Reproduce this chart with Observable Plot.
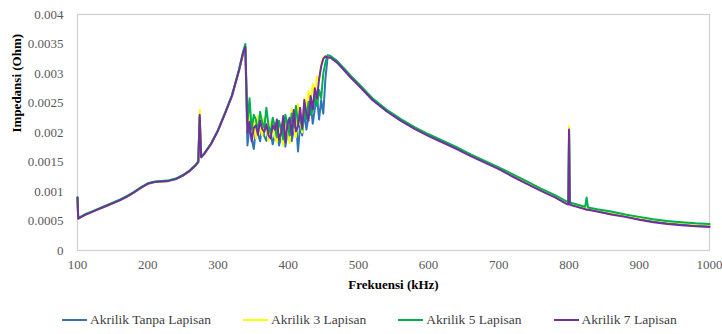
<!DOCTYPE html>
<html>
<head>
<meta charset="utf-8">
<script src="https://cdn.jsdelivr.net/npm/d3@7"></script>
<script src="https://cdn.jsdelivr.net/npm/@observablehq/plot@0.6"></script>
<style>
  html, body { margin: 0; padding: 0; background: #fff; }
  #chart { width: 722px; }
  .legend { display: flex; justify-content: flex-start; align-items: center; height: 20px; margin-top: 4px; padding-left: 62px;
            font-family: "Liberation Serif", "Times New Roman", serif; font-size: 13.5px; color: #404040; }
  .legend .item { display: flex; align-items: center; margin-right: 32px; }
  .legend .sw { width: 25px; height: 0; border-top: 2.5px solid; margin-right: 3px; }
</style>
</head>
<body>
<div id="chart"></div>
<script>
// Frequencies (kHz)
const freq = [
  100, 101, 110, 120, 130, 140, 150, 160, 170, 180, 190, 200, 210, 220, 230, 240, 250, 260, 268, 272, 274, 276, 280, 290, 300, 310, 320, 330, 336, 339,
  342, 345, 348, 351, 354, 357, 360, 363, 366, 369, 372, 375, 378, 381, 384, 387, 390, 393, 396, 399, 402, 405, 408, 411, 414, 417, 420, 423, 426, 429, 432, 435, 438, 441, 444, 447, 450, 453, 456,
  460, 470, 480, 490, 500, 520, 540, 560, 580, 600, 620, 640, 660, 680, 700, 720, 740, 760, 780, 795, 799, 800, 801, 805, 820, 823, 825, 827, 840, 860, 880, 900, 920, 940, 960, 980, 1000
];

const seriesNames = ["Akrilik Tanpa Lapisan", "Akrilik 3 Lapisan", "Akrilik 5 Lapisan", "Akrilik 7 Lapisan"];
const seriesColors = ["#2E75B6", "#FFFF00", "#00B050", "#7030A0"];

const tanpaLapisan = [
  0.00090, 0.00054, 0.00060, 0.00065, 0.00070, 0.00075, 0.00080, 0.00085, 0.00091, 0.00098, 0.00106, 0.00113, 0.00116, 0.00117, 0.00118, 0.00121, 0.00127, 0.00135, 0.00144, 0.00150, 0.00228, 0.00158, 0.00163, 0.00180, 0.00203, 0.00232, 0.00262, 0.00305, 0.00335, 0.00344,
  0.00178, 0.00210, 0.00190, 0.00172, 0.00205, 0.00198, 0.00185, 0.00212, 0.00194, 0.00186, 0.00208, 0.00200, 0.00180, 0.00196, 0.00215, 0.00178, 0.00192, 0.00210, 0.00176, 0.00200, 0.00218, 0.00185, 0.00205, 0.00225, 0.00168, 0.00212, 0.00195, 0.00235, 0.00205, 0.00228, 0.00250, 0.00215, 0.00240, 0.00262, 0.00222, 0.00255, 0.00232, 0.00290, 0.00326,
  0.00328, 0.00319, 0.00306, 0.00293, 0.00281, 0.00256, 0.00237, 0.00221, 0.00207, 0.00195, 0.00184, 0.00173, 0.00161, 0.00150, 0.00139, 0.00126, 0.00114, 0.00102, 0.00091, 0.00081, 0.00079, 0.00200, 0.00079, 0.00077, 0.00072, 0.00071, 0.00070, 0.00070, 0.00067, 0.00062, 0.00058, 0.00053, 0.00049, 0.00046, 0.00044, 0.00042, 0.00041
];

const lapisan3 = [
  0.00090, 0.00054, 0.00060, 0.00065, 0.00070, 0.00075, 0.00080, 0.00085, 0.00091, 0.00098, 0.00106, 0.00113, 0.00116, 0.00117, 0.00118, 0.00121, 0.00127, 0.00135, 0.00144, 0.00150, 0.00238, 0.00158, 0.00163, 0.00180, 0.00203, 0.00232, 0.00262, 0.00305, 0.00335, 0.00346,
  0.00205, 0.00235, 0.00198, 0.00220, 0.00190, 0.00228, 0.00212, 0.00195, 0.00225, 0.00208, 0.00186, 0.00215, 0.00222, 0.00192, 0.00184, 0.00218, 0.00196, 0.00178, 0.00225, 0.00205, 0.00182, 0.00240, 0.00212, 0.00192, 0.00248, 0.00220, 0.00200, 0.00258, 0.00238, 0.00270, 0.00248, 0.00282, 0.00265, 0.00295, 0.00288, 0.00315, 0.00327, 0.00329, 0.00327,
  0.00329, 0.00320, 0.00307, 0.00294, 0.00282, 0.00257, 0.00238, 0.00222, 0.00208, 0.00196, 0.00185, 0.00174, 0.00162, 0.00151, 0.00140, 0.00128, 0.00116, 0.00104, 0.00093, 0.00083, 0.00081, 0.00210, 0.00081, 0.00079, 0.00074, 0.00073, 0.00072, 0.00072, 0.00069, 0.00065, 0.00060, 0.00056, 0.00052, 0.00049, 0.00047, 0.00045, 0.00044
];

const lapisan5 = [
  0.00090, 0.00055, 0.00061, 0.00066, 0.00071, 0.00076, 0.00081, 0.00086, 0.00092, 0.00099, 0.00107, 0.00114, 0.00117, 0.00118, 0.00119, 0.00122, 0.00128, 0.00136, 0.00145, 0.00151, 0.00225, 0.00159, 0.00164, 0.00181, 0.00204, 0.00233, 0.00264, 0.00307, 0.00338, 0.00350,
  0.00215, 0.00258, 0.00205, 0.00230, 0.00222, 0.00200, 0.00235, 0.00218, 0.00208, 0.00242, 0.00212, 0.00198, 0.00225, 0.00210, 0.00192, 0.00220, 0.00205, 0.00188, 0.00230, 0.00215, 0.00195, 0.00232, 0.00208, 0.00245, 0.00215, 0.00228, 0.00205, 0.00240, 0.00222, 0.00252, 0.00230, 0.00238, 0.00262, 0.00245, 0.00272, 0.00258, 0.00300, 0.00318, 0.00331,
  0.00330, 0.00321, 0.00308, 0.00295, 0.00283, 0.00258, 0.00239, 0.00223, 0.00209, 0.00197, 0.00186, 0.00175, 0.00163, 0.00152, 0.00141, 0.00129, 0.00117, 0.00105, 0.00094, 0.00084, 0.00082, 0.00203, 0.00082, 0.00080, 0.00075, 0.00074, 0.00090, 0.00073, 0.00070, 0.00066, 0.00061, 0.00057, 0.00053, 0.00050, 0.00048, 0.00046, 0.00045
];

const lapisan7 = [
  0.00090, 0.00054, 0.00060, 0.00065, 0.00070, 0.00075, 0.00080, 0.00085, 0.00091, 0.00098, 0.00106, 0.00113, 0.00116, 0.00117, 0.00118, 0.00121, 0.00127, 0.00135, 0.00144, 0.00150, 0.00230, 0.00158, 0.00163, 0.00180, 0.00203, 0.00232, 0.00262, 0.00305, 0.00335, 0.00345,
  0.00200, 0.00218, 0.00185, 0.00208, 0.00212, 0.00196, 0.00220, 0.00206, 0.00201, 0.00214, 0.00195, 0.00190, 0.00212, 0.00205, 0.00222, 0.00188, 0.00200, 0.00228, 0.00183, 0.00215, 0.00225, 0.00195, 0.00238, 0.00202, 0.00210, 0.00242, 0.00208, 0.00255, 0.00232, 0.00220, 0.00262, 0.00240, 0.00275, 0.00258, 0.00290, 0.00312, 0.00325, 0.00329, 0.00327,
  0.00327, 0.00318, 0.00305, 0.00292, 0.00280, 0.00255, 0.00236, 0.00220, 0.00206, 0.00194, 0.00183, 0.00172, 0.00160, 0.00149, 0.00138, 0.00125, 0.00113, 0.00101, 0.00090, 0.00080, 0.00078, 0.00205, 0.00078, 0.00076, 0.00071, 0.00070, 0.00069, 0.00069, 0.00066, 0.00061, 0.00057, 0.00052, 0.00048, 0.00045, 0.00043, 0.00041, 0.00040
];

const yTicks = [0, 0.0005, 0.001, 0.0015, 0.002, 0.0025, 0.003, 0.0035, 0.004];
const xTicks = [100, 200, 300, 400, 500, 600, 700, 800, 900, 1000];

const allSeries = [tanpaLapisan, lapisan3, lapisan5, lapisan7];
const data = [];
allSeries.forEach((vals, si) => {
  freq.forEach((f, i) => data.push({series: seriesNames[si], f, z: vals[i]}));
});

const font = '"Liberation Serif", "Times New Roman", serif';

const chart = Plot.plot({
  width: 722,
  height: 306,
  marginLeft: 77,
  marginRight: 13,
  marginTop: 14,
  marginBottom: 56,
  style: {fontFamily: font, fontSize: "13px", color: "#595959", background: "#fff"},
  x: {domain: [100, 1000], ticks: xTicks, label: null},
  y: {domain: [0, 0.004], ticks: yTicks, label: null},
  color: {domain: seriesNames, range: seriesColors},
  marks: [
    Plot.frame({stroke: "#d0d0d0", strokeWidth: 1.2}),
    Plot.axisX({ticks: xTicks, tickSize: 0, tickPadding: 9, tickFormat: d => String(d), label: null, fill: "#595959"}),
    Plot.axisY({ticks: yTicks, tickSize: 0, tickPadding: 14, tickFormat: d3.format("~g"), label: null, fill: "#595959"}),
    Plot.line(data, {x: "f", y: "z", z: "series", stroke: "series", strokeWidth: 2, curve: "linear"}),
    Plot.text(["Frekuensi (kHz)"], {frameAnchor: "bottom", dy: 38, fontWeight: "bold", fill: "#000", fontSize: 13}),
    Plot.text(["Impedansi (Ohm)"], {frameAnchor: "left", dx: -61, rotate: -90, fontWeight: "bold", fill: "#000", fontSize: 13})
  ]
});
document.getElementById("chart").appendChild(chart);

const legend = document.createElement("div");
legend.className = "legend";
seriesNames.forEach((name, i) => {
  const item = document.createElement("div");
  item.className = "item";
  const sw = document.createElement("span");
  sw.className = "sw";
  sw.style.borderTopColor = seriesColors[i];
  const t = document.createElement("span");
  t.textContent = name;
  item.appendChild(sw);
  item.appendChild(t);
  legend.appendChild(item);
});
document.getElementById("chart").appendChild(legend);
</script>
</body>
</html>
